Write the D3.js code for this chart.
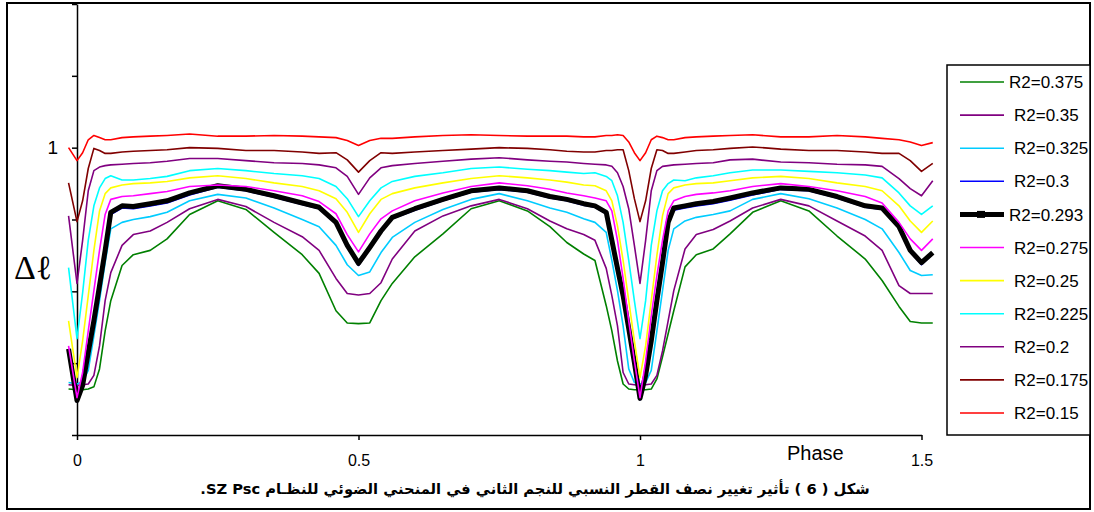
<!DOCTYPE html>
<html>
<head>
<meta charset="utf-8">
<script src="https://cdn.jsdelivr.net/npm/d3@7"></script>
<style>
  body { margin: 0; background: #fff; }
  svg { display: block; font-family: Arial, "Liberation Sans", sans-serif; }
</style>
</head>
<body>
<svg id="chart" width="1094" height="512"></svg>
<script>
const phases = [-0.015, 0, 0.01, 0.02, 0.03, 0.04, 0.05, 0.06, 0.08, 0.1,
  0.13, 0.16, 0.2, 0.25, 0.3, 0.35, 0.4, 0.43, 0.46, 0.48,
  0.5, 0.52, 0.54, 0.56, 0.6, 0.65, 0.7, 0.75, 0.8, 0.84,
  0.87, 0.9, 0.92, 0.94, 0.95, 0.96, 0.97, 0.98, 0.99, 1.0,
  1.01, 1.02, 1.03, 1.04, 1.05, 1.06, 1.08, 1.1, 1.13, 1.16,
  1.2, 1.25, 1.3, 1.35, 1.4, 1.43, 1.46, 1.48, 1.5, 1.52];

const r375 = [0.664, 0.663, 0.663, 0.664, 0.667, 0.692, 0.745, 0.787, 0.836, 0.851,
  0.857, 0.873, 0.907, 0.926, 0.914, 0.882, 0.851, 0.825, 0.773, 0.756,
  0.755, 0.756, 0.787, 0.811, 0.848, 0.880, 0.915, 0.926, 0.912, 0.890,
  0.868, 0.852, 0.843, 0.780, 0.745, 0.703, 0.671, 0.664, 0.663, 0.663,
  0.663, 0.664, 0.678, 0.709, 0.741, 0.773, 0.834, 0.851, 0.859, 0.880,
  0.910, 0.926, 0.912, 0.877, 0.845, 0.815, 0.779, 0.758, 0.756, 0.756];
const r350 = [0.670, 0.669, 0.670, 0.671, 0.683, 0.724, 0.787, 0.826, 0.864, 0.879,
  0.884, 0.896, 0.915, 0.928, 0.918, 0.896, 0.876, 0.857, 0.818, 0.797,
  0.795, 0.797, 0.812, 0.845, 0.884, 0.905, 0.919, 0.928, 0.915, 0.898,
  0.887, 0.879, 0.871, 0.832, 0.794, 0.752, 0.687, 0.671, 0.670, 0.669,
  0.670, 0.671, 0.683, 0.717, 0.759, 0.801, 0.859, 0.879, 0.886, 0.898,
  0.916, 0.928, 0.919, 0.898, 0.877, 0.857, 0.808, 0.797, 0.797, 0.797];
const r325 = [0.673, 0.671, 0.674, 0.690, 0.738, 0.787, 0.840, 0.887, 0.896, 0.900,
  0.904, 0.910, 0.926, 0.935, 0.930, 0.916, 0.900, 0.890, 0.864, 0.837,
  0.822, 0.827, 0.854, 0.875, 0.896, 0.914, 0.928, 0.936, 0.926, 0.916,
  0.910, 0.901, 0.896, 0.882, 0.843, 0.801, 0.752, 0.692, 0.673, 0.671,
  0.673, 0.690, 0.745, 0.801, 0.857, 0.887, 0.898, 0.903, 0.907, 0.912,
  0.928, 0.936, 0.929, 0.916, 0.900, 0.887, 0.854, 0.829, 0.822, 0.823];
const r300 = [0.718, 0.646, 0.667, 0.713, 0.757, 0.806, 0.855, 0.907, 0.916, 0.915,
  0.919, 0.923, 0.934, 0.945, 0.940, 0.931, 0.921, 0.915, 0.894, 0.862,
  0.836, 0.859, 0.882, 0.901, 0.913, 0.926, 0.938, 0.942, 0.938, 0.930,
  0.926, 0.920, 0.917, 0.908, 0.869, 0.830, 0.792, 0.746, 0.699, 0.649,
  0.681, 0.729, 0.785, 0.838, 0.894, 0.913, 0.916, 0.919, 0.922, 0.927,
  0.934, 0.942, 0.940, 0.930, 0.917, 0.914, 0.888, 0.855, 0.837, 0.852];
const r293 = [0.720, 0.648, 0.669, 0.715, 0.759, 0.808, 0.857, 0.910, 0.919, 0.918,
  0.922, 0.926, 0.937, 0.947, 0.942, 0.933, 0.923, 0.917, 0.896, 0.864,
  0.839, 0.861, 0.884, 0.903, 0.915, 0.928, 0.940, 0.944, 0.940, 0.932,
  0.928, 0.922, 0.919, 0.910, 0.871, 0.832, 0.794, 0.748, 0.701, 0.651,
  0.683, 0.731, 0.787, 0.840, 0.896, 0.916, 0.919, 0.922, 0.925, 0.930,
  0.937, 0.944, 0.942, 0.932, 0.919, 0.916, 0.890, 0.857, 0.840, 0.854];
const r275 = [0.724, 0.652, 0.687, 0.745, 0.801, 0.857, 0.907, 0.928, 0.932, 0.933,
  0.936, 0.939, 0.946, 0.948, 0.946, 0.940, 0.933, 0.925, 0.908, 0.879,
  0.855, 0.880, 0.901, 0.912, 0.926, 0.937, 0.946, 0.951, 0.947, 0.942,
  0.937, 0.933, 0.930, 0.926, 0.912, 0.871, 0.818, 0.759, 0.703, 0.652,
  0.703, 0.766, 0.822, 0.871, 0.912, 0.926, 0.932, 0.935, 0.937, 0.940,
  0.946, 0.950, 0.946, 0.940, 0.932, 0.923, 0.896, 0.873, 0.857, 0.873];
const r250 = [0.759, 0.680, 0.731, 0.794, 0.857, 0.912, 0.936, 0.944, 0.948, 0.950,
  0.951, 0.953, 0.958, 0.961, 0.957, 0.951, 0.946, 0.940, 0.929, 0.910,
  0.882, 0.908, 0.928, 0.936, 0.944, 0.951, 0.957, 0.961, 0.958, 0.955,
  0.952, 0.948, 0.947, 0.940, 0.926, 0.891, 0.843, 0.787, 0.731, 0.680,
  0.724, 0.787, 0.850, 0.905, 0.936, 0.944, 0.948, 0.950, 0.951, 0.954,
  0.958, 0.960, 0.957, 0.951, 0.946, 0.940, 0.919, 0.898, 0.882, 0.898];
const r225 = [0.833, 0.734, 0.798, 0.871, 0.919, 0.944, 0.957, 0.961, 0.955, 0.955,
  0.957, 0.960, 0.968, 0.971, 0.968, 0.964, 0.961, 0.957, 0.946, 0.929,
  0.904, 0.926, 0.944, 0.953, 0.960, 0.965, 0.971, 0.973, 0.970, 0.968,
  0.966, 0.964, 0.965, 0.960, 0.954, 0.933, 0.896, 0.843, 0.787, 0.734,
  0.787, 0.864, 0.912, 0.940, 0.950, 0.955, 0.954, 0.958, 0.961, 0.965,
  0.969, 0.969, 0.967, 0.965, 0.962, 0.958, 0.937, 0.919, 0.907, 0.919];
const r200 = [0.905, 0.811, 0.871, 0.940, 0.968, 0.973, 0.975, 0.976, 0.977, 0.978,
  0.979, 0.981, 0.985, 0.985, 0.982, 0.979, 0.978, 0.976, 0.972, 0.960,
  0.935, 0.958, 0.972, 0.975, 0.978, 0.981, 0.984, 0.986, 0.983, 0.981,
  0.980, 0.978, 0.977, 0.976, 0.974, 0.965, 0.946, 0.915, 0.864, 0.811,
  0.871, 0.940, 0.968, 0.974, 0.975, 0.976, 0.977, 0.978, 0.979, 0.983,
  0.984, 0.980, 0.979, 0.977, 0.976, 0.974, 0.957, 0.943, 0.933, 0.954];
const r175 = [0.951, 0.897, 0.926, 0.971, 0.999, 0.996, 0.992, 0.992, 0.994, 0.995,
  0.996, 0.997, 1.000, 0.999, 0.996, 0.996, 0.994, 0.992, 0.993, 0.983,
  0.966, 0.982, 0.993, 0.992, 0.994, 0.996, 0.998, 1.000, 0.999, 0.997,
  0.995, 0.994, 0.994, 0.996, 0.996, 0.997, 0.997, 0.968, 0.929, 0.897,
  0.926, 0.971, 0.997, 0.996, 0.992, 0.992, 0.994, 0.996, 0.997, 0.999,
  1.001, 0.998, 0.996, 0.996, 0.994, 0.992, 0.992, 0.982, 0.967, 0.978];
const r150 = [1.000, 0.982, 0.993, 1.011, 1.017, 1.014, 1.011, 1.011, 1.014, 1.015,
  1.016, 1.017, 1.019, 1.016, 1.016, 1.017, 1.016, 1.015, 1.014, 1.010,
  1.003, 1.010, 1.013, 1.013, 1.015, 1.017, 1.018, 1.017, 1.016, 1.016,
  1.016, 1.015, 1.015, 1.017, 1.017, 1.018, 1.017, 1.008, 0.993, 0.982,
  0.993, 1.011, 1.016, 1.014, 1.011, 1.011, 1.014, 1.015, 1.016, 1.017,
  1.018, 1.015, 1.015, 1.017, 1.015, 1.013, 1.011, 1.008, 1.003, 1.007];

const seriesLabels = ['R2=0.375', 'R2=0.35', 'R2=0.325', 'R2=0.3', 'R2=0.293', 'R2=0.275',
  'R2=0.25', 'R2=0.225', 'R2=0.2', 'R2=0.175', 'R2=0.15'];
const seriesValues = [r375, r350, r325, r300, r293, r275, r250, r225, r200, r175, r150];
const seriesColors = ['#008000', '#800080', '#00ccff', '#0000ff', '#000000', '#ff00ff',
  '#ffff00', '#00ffff', '#800080', '#800000', '#ff0000'];

const xTicks = [0, 0.5, 1, 1.5];
const yTicks = [0.6, 0.7, 0.8, 0.9, 1, 1.1, 1.2];
const yTickLabels = ['', '', '', '', '1', '', ''];

const caption = 'شكل ( 6 ) تأثير تغيير نصف القطر النسبي للنجم الثاني في المنحني الضوئي للنظـام SZ Psc.';

const svg = d3.select('#chart');

svg.append('rect')
  .attr('x', 7).attr('y', 3).attr('width', 1083).attr('height', 506)
  .attr('fill', '#fff').attr('stroke', '#000').attr('stroke-width', 2);

const x = d3.scaleLinear().domain([0, 1.5]).range([77, 921.5]);
const y = d3.scaleLinear().domain([0.6, 1.2]).range([435, 4]);

const xAxis = svg.append('g')
  .attr('transform', `translate(0,${y(0.6)})`)
  .call(d3.axisBottom(x).tickValues(xTicks).tickSize(5).tickSizeOuter(0).tickPadding(15)
    .tickFormat(d3.format('')));
const yAxis = svg.append('g')
  .attr('transform', `translate(${x(0)},0)`)
  .call(d3.axisLeft(y).tickValues(yTicks).tickSize(5).tickSizeOuter(0).tickPadding(14)
    .tickFormat((d, i) => yTickLabels[i]));

[xAxis, yAxis].forEach((g) => {
  g.selectAll('path, line').attr('stroke', '#000').attr('stroke-width', 1.5);
  g.selectAll('text').attr('fill', '#000').attr('font-family', 'Arial, "Liberation Sans", sans-serif');
});
xAxis.selectAll('text').attr('font-size', 16);
yAxis.selectAll('text').attr('font-size', 19);

svg.append('text')
  .attr('x', 787).attr('y', 460)
  .attr('font-size', 20)
  .text('Phase');

svg.append('text')
  .attr('x', 14).attr('y', 279)
  .attr('font-family', '"Liberation Serif", "DejaVu Serif", serif')
  .attr('font-size', 34)
  .text('Δℓ');

const line = d3.line()
  .x((d) => x(d[0]))
  .y((d) => y(d[1]));

seriesValues.forEach((vals, i) => {
  const pts = phases.map((p, j) => [p, vals[j]]);
  svg.append('path')
    .datum(pts)
    .attr('d', line)
    .attr('fill', 'none')
    .attr('stroke', seriesColors[i])
    .attr('stroke-width', seriesLabels[i] === 'R2=0.293' ? 5 : 1.6)
    .attr('stroke-linejoin', 'round');
});

// legend
const legend = svg.append('g');
legend.append('rect')
  .attr('x', 947).attr('y', 65).attr('width', 143).attr('height', 370)
  .attr('fill', '#fff').attr('stroke', '#000').attr('stroke-width', 1.5);

seriesLabels.forEach((label, i) => {
  const cy = 82 + i * 33.1;
  const thick = label === 'R2=0.293';
  legend.append('line')
    .attr('x1', 960).attr('x2', 1004).attr('y1', cy).attr('y2', cy)
    .attr('stroke', seriesColors[i])
    .attr('stroke-width', thick ? 5 : 1.6);
  if (thick) {
    legend.append('rect')
      .attr('x', 977).attr('y', cy - 3.5).attr('width', 8).attr('height', 7)
      .attr('fill', '#000');
  }
  legend.append('text')
    .attr('x', (i === 0 || thick) ? 1009 : 1014).attr('y', cy)
    .attr('dy', '0.36em')
    .attr('font-size', 17)
    .text(label);
});

svg.append('text')
  .attr('x', 535).attr('y', 494)
  .attr('text-anchor', 'middle')
  .attr('direction', 'rtl')
  .attr('font-family', '"DejaVu Sans", sans-serif')
  .attr('font-weight', 'bold')
  .attr('font-size', 14.7)
  .text(caption);
</script>
</body>
</html>
